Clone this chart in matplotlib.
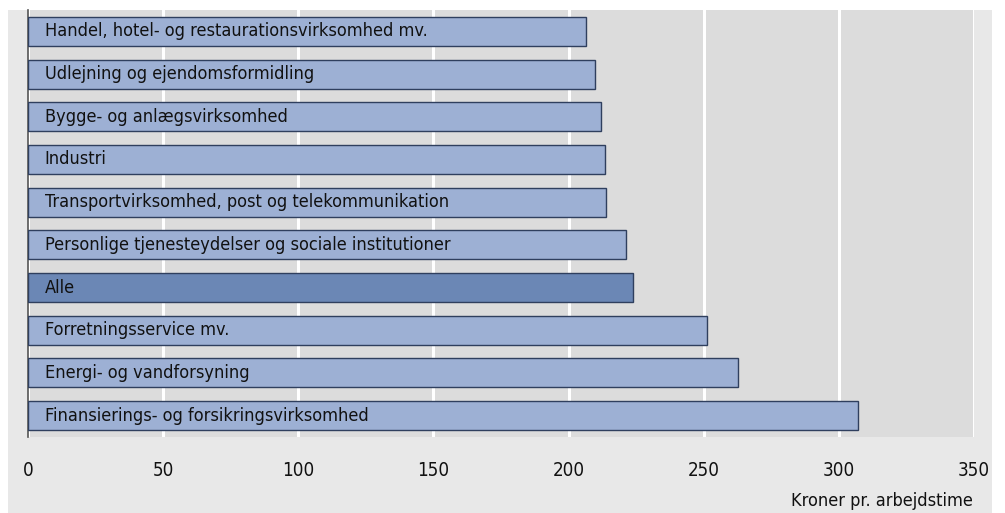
import matplotlib
matplotlib.use("Agg")
import matplotlib.pyplot as plt
from matplotlib.patches import Rectangle

plt.rcParams['font.family'] = ['DejaVu Sans']
plt.rcParams['font.stretch'] = 'condensed'

# data (top to bottom)
brancher = ["Handel, hotel- og restaurationsvirksomhed mv.",
            "Udlejning og ejendomsformidling",
            "Bygge- og anlægsvirksomhed",
            "Industri",
            "Transportvirksomhed, post og telekommunikation",
            "Personlige tjenesteydelser og sociale institutioner",
            "Alle",
            "Forretningsservice mv.",
            "Energi- og vandforsyning",
            "Finansierings- og forsikringsvirksomhed"]
vaerdi = [206.4, 209.8, 212.0, 213.5, 213.8, 221.2, 223.8, 251.2, 262.7, 307.0]
xticks = [0, 50, 100, 150, 200, 250, 300, 350]

fig = plt.figure(figsize=(10.05, 5.13), dpi=100)
fig.patch.set_facecolor('white')
# ydre grå ramme
fig.patches.append(Rectangle((8/1005, 0), 984/1005, 503/513, transform=fig.transFigure,
                             facecolor='#e8e8e8', edgecolor='none', zorder=-5))

ax = fig.add_axes([28/1005, 76/513, 946/1005, 427/513])
ax.set_zorder(2)
ax.set_facecolor('#dcdcdc')
y = list(range(len(brancher)))
farver = ['#6b87b5' if b == "Alle" else '#9db0d4' for b in brancher]
ax.barh(y, vaerdi, height=0.68, color=farver, edgecolor='#2f3f5e', linewidth=1, zorder=3)
for i, b in enumerate(brancher):
    ax.text(6.2, i, b, va='center', ha='left', fontsize=13, color='#111111', zorder=4)

ax.set_ylim(len(brancher) - 0.5, -0.5)
ax.set_xlim(0, 350)
ax.set_xticks(xticks)
ax.set_yticks([])
ax.grid(axis='x', color='white', linewidth=2.2, zorder=1)
ax.set_axisbelow(True)
for s in ['top', 'right', 'bottom']:
    ax.spines[s].set_visible(False)
ax.spines['left'].set_color('#555555')
ax.spines['left'].set_linewidth(1.2)
ax.tick_params(axis='x', length=0, pad=17, labelsize=13.5, colors='#111111')
fig.text(973/1005, 3/513, "Kroner pr. arbejdstime", ha='right', va='bottom',
         fontsize=13, color='#111111')

plt.savefig("out.png", dpi=100)
